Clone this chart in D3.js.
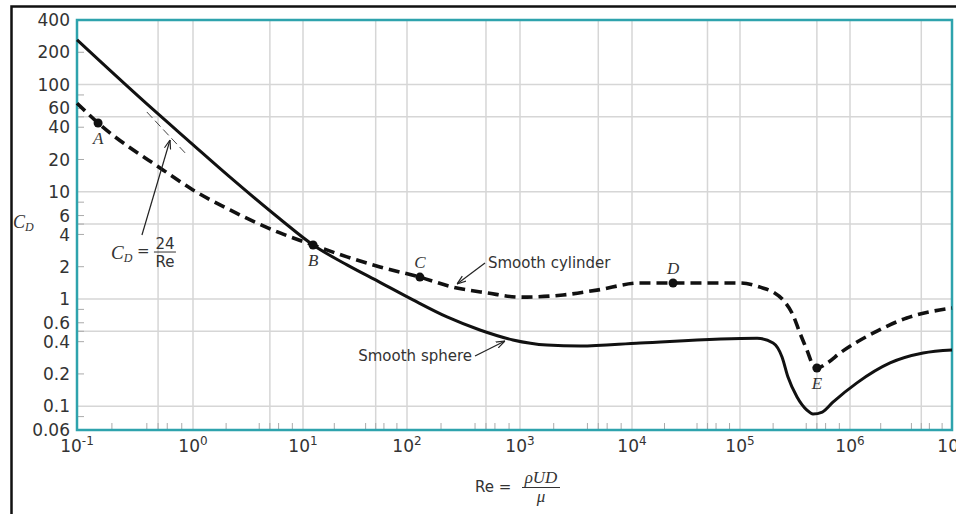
<!DOCTYPE html>
<html>
<head>
<meta charset="utf-8">
<script src="https://cdn.jsdelivr.net/npm/d3@7"></script>
<style>
  body { margin: 0; background: #fff; }
  svg { display: block; font-family: 'DejaVu Sans', sans-serif; }
</style>
</head>
<body>
<svg id="chart" width="956" height="514"></svg>
<script>
// axis values
const reDecades = [1e-1, 1e0, 1e1, 1e2, 1e3, 1e4, 1e5, 1e6, 1e7]
const decadeExponents = ['-1', '0', '1', '2', '3', '4', '5', '6', '7']
const cdTicks = [400, 200, 100, 60, 40, 20, 10, 6, 4, 2, 1, 0.6, 0.4, 0.2, 0.1, 0.06]
const cdGrid = [0.1, 0.5, 1, 5, 10, 50, 100]
const minorSteps = [2, 4, 5, 6, 8]

// drag coefficient curves
const sphereRe = [0.1, 0.40, 0.942, 2.17, 6.18, 12.5, 26.5, 55, 113, 226, 442, 866, 1740, 3440,
  1.19e4, 1.43e5, 2.0e5, 2.41e5, 2.73e5, 3.3e5, 4.06e5, 4.61e5, 5.6e5, 7.0e5, 1.17e6, 2.47e6, 5.2e6, 1e7]
const sphereCd = [261, 65.9, 29.1, 13.7, 5.57, 3.19, 2.08, 1.43, 0.98, 0.68, 0.514, 0.415, 0.372, 0.364,
  0.389, 0.43, 0.389, 0.288, 0.187, 0.122, 0.092, 0.0846, 0.0883, 0.109, 0.165, 0.253, 0.313, 0.334]

const cylinderRe = [0.1, 0.152, 0.551, 1.0, 2.17, 6.18, 12.5, 26.5, 55, 130, 255, 510, 1000, 2420, 4870,
  1.19e4, 2.4e4, 1e5, 1.52e5, 2.0e5, 2.46e5, 3.03e5, 3.51e5, 4.06e5, 4.61e5, 5.0e5, 6.2e5, 8.1e5, 1.68e6, 3.6e6, 1e7]
const cylinderCd = [67, 43.8, 16.0, 10.4, 6.77, 4.13, 3.19, 2.47, 1.99, 1.60, 1.29, 1.14, 1.04, 1.09, 1.21,
  1.41, 1.41, 1.41, 1.29, 1.16, 0.98, 0.71, 0.48, 0.334, 0.242, 0.227, 0.253, 0.313, 0.48, 0.665, 0.824]

// marked points on the cylinder curve
const pointNames = ['A', 'B', 'C', 'D', 'E']
const pointRe = [0.152, 12.5, 130, 2.4e4, 5.0e5]
const pointCd = [43.8, 3.19, 1.60, 1.41, 0.227]
const pointSide = [1, 1, -1, -1, 1] // 1 = label below, -1 = above

// Stokes law reference segment CD = 24/Re
const stokesRe = [0.40, 0.89]
const stokesCd = [55.5, 22.0]

// callouts
const noteText = ['Smooth cylinder', 'Smooth sphere']
const noteTailRe = [490, 400]
const noteTailCd = [2.17, 0.294]
const noteHeadRe = [277, 736]
const noteHeadCd = [1.38, 0.406]
const noteAnchor = ['start', 'end']
const stokesTail = [0.363, 3.95]
const stokesHead = [0.634, 30.4]

const svg = d3.select('#chart')

// the decades are not evenly spaced in the scanned figure
const x = d3.scaleLog()
  .domain(reDecades)
  .range([77, 193, 303, 407, 520, 632, 740, 850, 952])
const y = d3.scaleLog()
  .domain([0.06, 400])
  .range([430, 20])

const defs = svg.append('defs')
defs.append('marker')
  .attr('id', 'arrow')
  .attr('viewBox', '0 -5 10 10')
  .attr('refX', 10)
  .attr('refY', 0)
  .attr('markerWidth', 9)
  .attr('markerHeight', 9)
  .attr('markerUnits', 'userSpaceOnUse')
  .attr('orient', 'auto')
  .append('path')
  .attr('d', 'M0,-3.5L10,0L0,3.5')
  .attr('fill', 'none')
  .attr('stroke', '#222')
  .attr('stroke-width', 1.3)

// outer border of the figure
svg.append('path')
  .attr('d', 'M11.5,514 V6.5 H956')
  .attr('fill', 'none')
  .attr('stroke', '#111')
  .attr('stroke-width', 2.5)

// grid
const gridRe = reDecades.flatMap(d => [d, d * 5]).filter(v => v > 0.1 && v < 1e7)
svg.append('g')
  .selectAll('line')
  .data(gridRe)
  .enter()
  .append('line')
  .attr('x1', d => x(d))
  .attr('x2', d => x(d))
  .attr('y1', y(400))
  .attr('y2', y(0.06))
  .attr('stroke', '#d6d6d6')
  .attr('stroke-width', 1.5)

svg.append('g')
  .selectAll('line')
  .data(cdGrid)
  .enter()
  .append('line')
  .attr('x1', x(0.1))
  .attr('x2', x(1e7))
  .attr('y1', d => y(d))
  .attr('y2', d => y(d))
  .attr('stroke', '#d6d6d6')
  .attr('stroke-width', 1.5)

// small inside ticks
const minorRe = reDecades.slice(0, -1).flatMap(d => minorSteps.map(m => m * d))
svg.append('g')
  .selectAll('line')
  .data(minorRe)
  .enter()
  .append('line')
  .attr('x1', d => x(d))
  .attr('x2', d => x(d))
  .attr('y1', y(0.06))
  .attr('y2', y(0.06) - 7)
  .attr('stroke', '#aaa')
  .attr('stroke-width', 1)

const minorCd = [0.01, 0.1, 1, 10, 100].flatMap(d => minorSteps.map(m => m * d))
  .filter(v => v >= 0.06 && v <= 400)
svg.append('g')
  .selectAll('line')
  .data(minorCd)
  .enter()
  .append('line')
  .attr('x1', x(0.1))
  .attr('x2', x(0.1) + 7)
  .attr('y1', d => y(d))
  .attr('y2', d => y(d))
  .attr('stroke', '#aaa')
  .attr('stroke-width', 1)

// plot frame
svg.append('rect')
  .attr('x', x(0.1))
  .attr('y', y(400))
  .attr('width', x(1e7) - x(0.1))
  .attr('height', y(0.06) - y(400))
  .attr('fill', 'none')
  .attr('stroke', '#2ea3ad')
  .attr('stroke-width', 2.5)

// tick labels
const xLabels = svg.append('g')
  .selectAll('text')
  .data(reDecades)
  .enter()
  .append('text')
  .attr('x', d => x(d))
  .attr('y', 452)
  .attr('text-anchor', 'middle')
  .attr('font-size', '17px')
  .attr('fill', '#333')
xLabels.append('tspan').text('10')
xLabels.append('tspan')
  .attr('dy', -7)
  .attr('font-size', '12px')
  .text((d, i) => decadeExponents[i])

svg.append('g')
  .selectAll('text')
  .data(cdTicks)
  .enter()
  .append('text')
  .attr('x', 70)
  .attr('y', d => y(d))
  .attr('dy', '0.36em')
  .attr('text-anchor', 'end')
  .attr('font-size', '17px')
  .attr('fill', '#333')
  .text(d => d)

// axis titles
const yTitle = svg.append('text')
  .attr('x', 13)
  .attr('y', 228)
  .attr('font-family', 'Liberation Serif, serif')
  .attr('font-style', 'italic')
  .attr('font-size', '18px')
  .attr('fill', '#333')
yTitle.append('tspan').text('C')
yTitle.append('tspan').attr('dy', 3).attr('font-size', '12px').text('D')

svg.append('text')
  .attr('x', 475)
  .attr('y', 492)
  .attr('font-size', '15px')
  .attr('fill', '#333')
  .text('Re =')
svg.append('text')
  .attr('x', 541)
  .attr('y', 483)
  .attr('text-anchor', 'middle')
  .attr('font-family', 'Liberation Serif, serif')
  .attr('font-style', 'italic')
  .attr('font-size', '17px')
  .attr('fill', '#333')
  .text('\u03C1UD')
svg.append('line')
  .attr('x1', 522)
  .attr('x2', 560)
  .attr('y1', 487.5)
  .attr('y2', 487.5)
  .attr('stroke', '#333')
  .attr('stroke-width', 1)
svg.append('text')
  .attr('x', 541)
  .attr('y', 502)
  .attr('text-anchor', 'middle')
  .attr('font-family', 'Liberation Serif, serif')
  .attr('font-style', 'italic')
  .attr('font-size', '17px')
  .attr('fill', '#333')
  .text('\u03BC')

// curves
const line = d3.line()
  .x(d => x(d[0]))
  .y(d => y(d[1]))
  .curve(d3.curveMonotoneX)

svg.append('path')
  .datum(stokesRe.map((r, i) => [r, stokesCd[i]]))
  .attr('d', d3.line().x(d => x(d[0])).y(d => y(d[1])))
  .attr('fill', 'none')
  .attr('stroke', '#444')
  .attr('stroke-width', 1)
  .attr('stroke-dasharray', '8,4')

svg.append('path')
  .datum(sphereRe.map((r, i) => [r, sphereCd[i]]))
  .attr('d', line)
  .attr('fill', 'none')
  .attr('stroke', '#111')
  .attr('stroke-width', 3)

svg.append('path')
  .datum(cylinderRe.map((r, i) => [r, cylinderCd[i]]))
  .attr('d', line)
  .attr('fill', 'none')
  .attr('stroke', '#111')
  .attr('stroke-width', 3.6)
  .attr('stroke-dasharray', '11,6')

// marked points
svg.append('g')
  .selectAll('circle')
  .data(pointRe)
  .enter()
  .append('circle')
  .attr('cx', d => x(d))
  .attr('cy', (d, i) => y(pointCd[i]))
  .attr('r', 4.5)
  .attr('fill', '#111')

svg.append('g')
  .selectAll('text')
  .data(pointNames)
  .enter()
  .append('text')
  .attr('x', (d, i) => x(pointRe[i]))
  .attr('y', (d, i) => y(pointCd[i]) + pointSide[i] * 15)
  .attr('dy', '0.36em')
  .attr('text-anchor', 'middle')
  .attr('font-family', 'Liberation Serif, serif')
  .attr('font-style', 'italic')
  .attr('font-size', '17px')
  .attr('fill', '#333')
  .text(d => d)

// callouts
noteText.forEach((t, i) => {
  const tx = x(noteTailRe[i])
  const ty = y(noteTailCd[i])
  svg.append('line')
    .attr('x1', tx)
    .attr('y1', ty)
    .attr('x2', x(noteHeadRe[i]))
    .attr('y2', y(noteHeadCd[i]))
    .attr('stroke', '#222')
    .attr('stroke-width', 1.2)
    .attr('marker-end', 'url(#arrow)')
  svg.append('text')
    .attr('x', tx + (noteAnchor[i] === 'start' ? 3 : -3))
    .attr('y', ty)
    .attr('dy', '0.36em')
    .attr('text-anchor', noteAnchor[i])
    .attr('font-size', '15px')
    .attr('fill', '#333')
    .text(t)
})

const sx = x(stokesTail[0])
const sy = y(stokesTail[1])
svg.append('line')
  .attr('x1', sx)
  .attr('y1', sy)
  .attr('x2', x(stokesHead[0]))
  .attr('y2', y(stokesHead[1]))
  .attr('stroke', '#222')
  .attr('stroke-width', 1.2)
  .attr('marker-end', 'url(#arrow)')

const stokesLabel = svg.append('g')
  .attr('transform', `translate(${sx},${sy})`)
  .attr('fill', '#333')
const cd = stokesLabel.append('text')
  .attr('x', -31)
  .attr('y', 24)
  .attr('font-family', 'Liberation Serif, serif')
  .attr('font-style', 'italic')
  .attr('font-size', '19px')
cd.append('tspan').text('C')
cd.append('tspan').attr('dy', 3).attr('font-size', '12px').text('D')
stokesLabel.append('text')
  .attr('x', -5)
  .attr('y', 21)
  .attr('font-size', '15px')
  .text('=')
stokesLabel.append('text')
  .attr('x', 23)
  .attr('y', 14)
  .attr('text-anchor', 'middle')
  .attr('font-size', '15px')
  .text('24')
stokesLabel.append('line')
  .attr('x1', 12)
  .attr('x2', 34)
  .attr('y1', 17)
  .attr('y2', 17)
  .attr('stroke', '#333')
  .attr('stroke-width', 1)
stokesLabel.append('text')
  .attr('x', 23)
  .attr('y', 32)
  .attr('text-anchor', 'middle')
  .attr('font-size', '15px')
  .text('Re')
</script>
</body>
</html>
